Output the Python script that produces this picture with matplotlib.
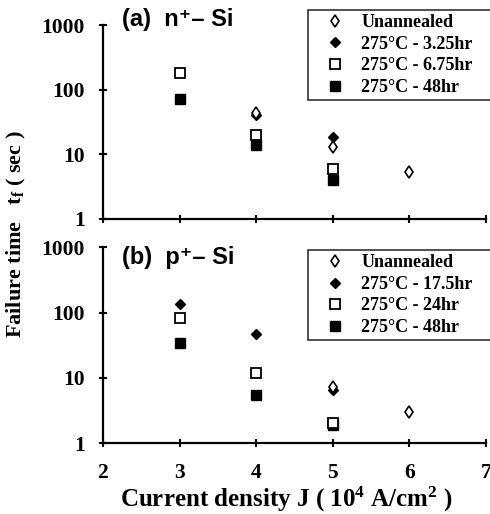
import matplotlib
matplotlib.use("Agg")
import matplotlib.pyplot as plt

plt.rcParams['font.family'] = ['Liberation Serif', 'DejaVu Serif']
plt.rcParams['font.weight'] = 'bold'
plt.rcParams['mathtext.fontset'] = 'custom'
plt.rcParams['mathtext.rm'] = 'Liberation Serif:bold'
plt.rcParams['mathtext.it'] = 'Liberation Serif:bold'
plt.rcParams['mathtext.bf'] = 'Liberation Serif:bold'

# panel (a) n+ Si
a_unann_x = [4, 5, 6]
a_unann_y = [43, 13, 5.3]
a_s1_x = [4, 5]
a_s1_y = [40, 18.5]
a_s2_x = [3, 4, 5]
a_s2_y = [180, 20, 6.0]
a_s3_x = [3, 4, 5]
a_s3_y = [72, 14, 4.0]
a_labels = ['Unannealed', '275°C - 3.25hr', '275°C - 6.75hr', '275°C - 48hr']

# panel (b) p+ Si
b_unann_x = [5, 6]
b_unann_y = [7.3, 3.0]
b_s1_x = [3, 4, 5]
b_s1_y = [133, 47, 6.6]
b_s2_x = [3, 4, 5]
b_s2_y = [81, 11.8, 2.0]
b_s3_x = [3, 4, 5]
b_s3_y = [34, 5.5, 1.9]
b_labels = ['Unannealed', '275°C - 17.5hr', '275°C - 24hr', '275°C - 48hr']

x_ticks = [2, 3, 4, 5, 6, 7]
y_ticks = [1, 10, 100, 1000]


def draw_panel(ax, data, labels, title, title_y, legend_top):
    (ux, uy), (s1x, s1y), (s2x, s2y), (s3x, s3y) = data
    # squares first, diamonds drawn on top
    h3, = ax.plot(s3x, s3y, 's', color='black', ms=6.5, ls='none')
    h2, = ax.plot(s2x, s2y, 's', mfc='white', mec='black', mew=1.3, ms=7, ls='none')
    h1, = ax.plot(s1x, s1y, 'D', color='black', ms=5.5, ls='none')
    h0, = ax.plot(ux, uy, 'd', mfc='white', mec='black', mew=1.2, ms=6.5, ls='none')

    ax.set_yscale('log')
    ax.set_ylim(1, 1000)
    ax.set_xlim(2, 7)
    ax.set_xticks(x_ticks)
    ax.set_yticks(y_ticks)
    ax.set_yticklabels([str(v) for v in y_ticks])
    ax.yaxis.set_minor_locator(matplotlib.ticker.NullLocator())
    for s in ['top', 'right']:
        ax.spines[s].set_visible(False)
    for s in ['left', 'bottom']:
        ax.spines[s].set_linewidth(1.6)
    ax.tick_params(direction='inout', length=6, width=1.5, labelsize=15.5)
    ax.tick_params(axis='y', pad=10)
    ax.tick_params(axis='x', pad=11)

    fig.text(0.249, title_y, title, fontsize=17, fontweight='bold',
             family=['Liberation Sans', 'DejaVu Sans'], va='top', ha='left')

    leg = ax.legend([h0, h1, h2, h3], labels, loc='upper left',
                    bbox_to_anchor=(0.629, legend_top, 0.38, 0), bbox_transform=fig.transFigure,
                    mode='expand', frameon=True, fancybox=False, edgecolor='black', fontsize=13,
                    handlelength=2.5, handletextpad=0.2, borderpad=0.25,
                    borderaxespad=0, labelspacing=0.25, numpoints=1)
    leg.get_frame().set_linewidth(1.2)


fig = plt.figure(figsize=(4.9, 5.14), dpi=100)
ax1 = fig.add_axes([0.210, 0.574, 0.782, 0.377])
ax2 = fig.add_axes([0.210, 0.138, 0.782, 0.381])

draw_panel(ax1, [(a_unann_x, a_unann_y), (a_s1_x, a_s1_y), (a_s2_x, a_s2_y), (a_s3_x, a_s3_y)],
           a_labels, '(a)  n\u207a\u2013 Si', 0.985, 0.981)
draw_panel(ax2, [(b_unann_x, b_unann_y), (b_s1_x, b_s1_y), (b_s2_x, b_s2_y), (b_s3_x, b_s3_y)],
           b_labels, '(b)  p\u207a\u2013 Si', 0.522, 0.514)

ax1.tick_params(labelbottom=False)
ax2.set_xlabel(r'Current density J ( 10$^4$ A/cm$^2$ )', fontsize=18, fontweight='bold')
ax2.xaxis.set_label_coords(0.478, -0.214)
fig.text(0.034, 0.545, r'Failure time   t$_\mathrm{f}$ ( sec )', rotation=90, fontsize=16,
         fontweight='bold', ha='center', va='center')

fig.savefig('out.png', dpi=100)
